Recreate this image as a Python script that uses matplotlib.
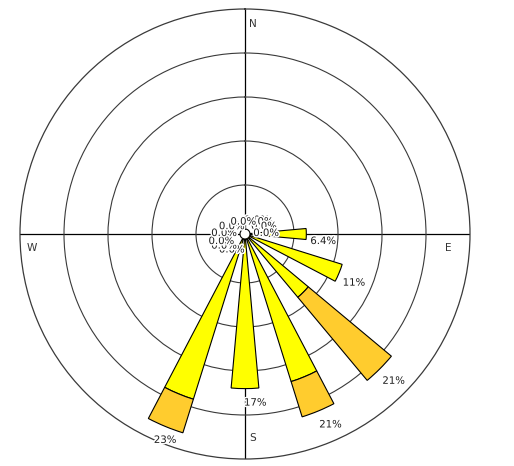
import numpy as np
import matplotlib
matplotlib.use("Agg")
import matplotlib.pyplot as plt
import matplotlib.patheffects as pe

# ---- data ----
directions = ["N", "NNE", "NE", "ENE", "E", "ESE", "SE", "SSE",
              "S", "SSW", "SW", "WSW", "W", "WNW", "NW", "NNW"]
low_speed = [0, 0, 0, 0, 6.4, 11.0, 8.8, 17.0, 17.0, 19.1, 0, 0, 0, 0, 0, 0]
high_speed = [0, 0, 0, 0, 0, 0, 12.3, 4.2, 0, 4.0, 0, 0, 0, 0, 0, 0]
ring_values = [5, 10, 15, 20]
r_max = 25
compass_labels = ["N", "E", "S", "W"]
compass_angles = [0, 90, 180, 270]

YELLOW = "#FFFF00"
ORANGE = "#FFCC2E"
TXT = "#1e1e1e"

fig = plt.figure(figsize=(5.14, 4.66), dpi=100)
fig.patch.set_facecolor("white")
ax = fig.add_axes([0.0389, 0.015, 0.8755, 0.9657], projection="polar")
ax.set_theta_zero_location("N")
ax.set_theta_direction(-1)
ax.set_ylim(0, r_max)
ax.set_rorigin(-0.568)
ax.set_axisbelow(True)

low = np.array(low_speed, dtype=float)
high = np.array(high_speed, dtype=float)
total = low + high
theta = np.deg2rad(np.arange(len(directions)) * 360.0 / len(directions))
width = np.deg2rad(10.3)

m1 = low > 0
ax.bar(theta[m1], low[m1], width=width, bottom=0, color=YELLOW,
       edgecolor="black", linewidth=0.8, zorder=3)
m2 = high > 0
ax.bar(theta[m2], high[m2], width=width, bottom=low[m2], color=ORANGE,
       edgecolor="black", linewidth=0.8, zorder=3)

# grid
ax.set_rticks(ring_values)
ax.set_yticklabels([])
ax.yaxis.grid(True, color="#3a3a3a", linewidth=0.8)
ax.set_thetagrids(compass_angles, labels=[""] * len(compass_angles))
ax.xaxis.grid(True, color="black", linewidth=0.9)
ax.spines["polar"].set_color("#3a3a3a")
ax.spines["polar"].set_linewidth(0.9)
ax.spines["inner"].set_color("black")
ax.spines["inner"].set_linewidth(0.8)

# compass labels
for lab, ang in zip(compass_labels, compass_angles):
    t = np.deg2rad(ang)
    s, c = np.sin(t), np.cos(t)
    d = 15 + 7 * max(0, s) + 6 * max(0, -c) - 3.5 * max(0, -s)
    ox = -d * s + 8 * abs(c)
    oy = -d * c - 14 * abs(s)
    ax.annotate(lab, xy=(t, r_max), xytext=(ox, oy), textcoords="offset pixels",
                ha="center", va="center", fontsize=7.6, color="#333333",
                annotation_clip=False)

# value labels
halo = [pe.withStroke(linewidth=2.2, foreground="white")]
anns = []
for th, v in zip(theta, total):
    lab = f"{v:.1f}%" if v < 10 else f"{v:.0f}%"
    a = ax.annotate(lab, xy=(th, v), xytext=(0, 0), textcoords="offset pixels",
                    ha="left", va="top", fontsize=7.3, color=TXT, zorder=5,
                    path_effects=halo, annotation_clip=False)
    anns.append((a, th))

fig.canvas.draw()
renderer = fig.canvas.get_renderer()
h = 9.0
for a, th in anns:
    w = a.get_window_extent(renderer).width
    dx = np.sin(th)
    dy = -np.cos(th)  # screen down-positive
    ox = -1 + dx * 5 if dx >= 0 else -1 + dx * (5 + w)
    oyd = 2 + dy * 7 if dy >= 0 else 2 + dy * (7 + h)
    a.xyann = (ox, -oyd)

fig.savefig("out.png", dpi=100, facecolor="white")
